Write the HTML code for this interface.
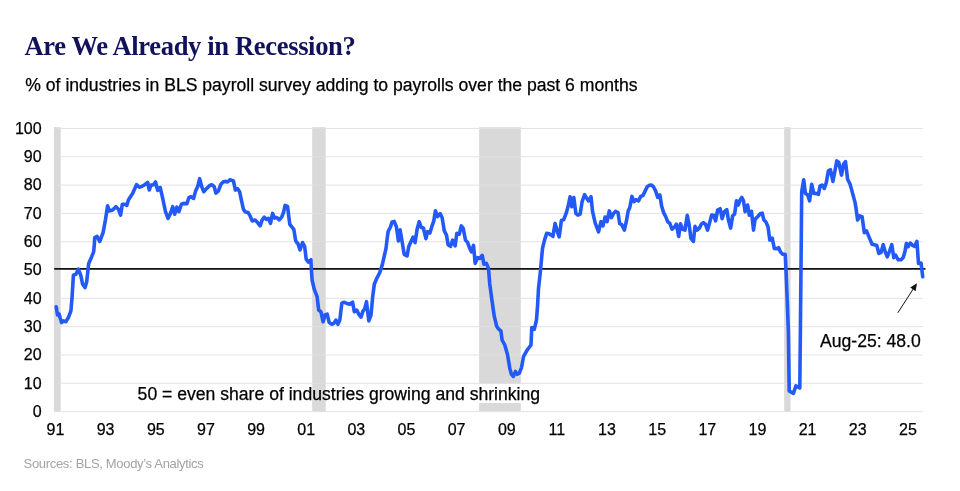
<!DOCTYPE html>
<html lang="en"><head><meta charset="utf-8"><title>Are We Already in Recession?</title>
<style>
html,body{margin:0;padding:0;background:#fff;}
body{width:960px;height:491px;position:relative;overflow:hidden;font-family:"Liberation Sans",Arial,sans-serif;}
h1{position:absolute;left:24.5px;top:28.9px;margin:0;font-family:"Liberation Serif","Times New Roman",serif;font-weight:bold;font-size:26.6px;line-height:34px;color:#12125c;white-space:nowrap;letter-spacing:-0.37px;}
.sub{position:absolute;left:25.3px;top:74.3px;margin:0;font-size:17.6px;line-height:22px;color:#000;-webkit-text-stroke:0.25px #000;white-space:nowrap;}
.src{position:absolute;left:23.6px;top:455.8px;margin:0;font-size:13px;letter-spacing:-0.32px;line-height:16px;color:#a3a3a3;white-space:nowrap;}
svg{position:absolute;left:0;top:0;}
svg text{font-family:"Liberation Sans",Arial,sans-serif;fill:#000;stroke:#000;stroke-width:0.25px;}
.ax text{font-size:16px;}
.an{font-size:17.6px;}
</style></head><body>
<h1>Are We Already in Recession?</h1>
<p class="sub">% of industries in BLS payroll survey adding to payrolls over the past 6 months</p>
<svg width="960" height="491" viewBox="0 0 960 491">
<g fill="#d9d9d9">
<rect x="53.9" y="127.2" width="6.8" height="284.4"/>
<rect x="312.2" y="127.2" width="13.5" height="284.4"/>
<rect x="479.1" y="127.2" width="41.7" height="284.4"/>
<rect x="784.2" y="127.2" width="6.4" height="284.4"/>
</g>
<rect x="479" y="383.8" width="42" height="19.2" fill="#fff"/>
<g stroke="#e0e0e0" stroke-width="0.9"><line x1="54.2" x2="923.0" y1="411.60" y2="411.60"/><line x1="54.2" x2="923.0" y1="383.29" y2="383.29"/><line x1="54.2" x2="923.0" y1="354.98" y2="354.98"/><line x1="54.2" x2="923.0" y1="326.67" y2="326.67"/><line x1="54.2" x2="923.0" y1="298.36" y2="298.36"/><line x1="54.2" x2="923.0" y1="241.74" y2="241.74"/><line x1="54.2" x2="923.0" y1="213.43" y2="213.43"/><line x1="54.2" x2="923.0" y1="185.12" y2="185.12"/><line x1="54.2" x2="923.0" y1="156.81" y2="156.81"/><line x1="54.2" x2="923.0" y1="128.50" y2="128.50"/></g>
<line x1="54.2" x2="925.4" y1="268.85" y2="268.85" stroke="#111" stroke-width="1.7"/>
<polyline fill="none" stroke="#235af7" stroke-width="3.6" stroke-linejoin="round" stroke-linecap="round" points="56.2,306.7 57.5,315.0 59.2,314.2 60.0,317.5 61.7,322.6 63.4,320.9 65.9,321.7 68.4,317.5 70.9,310.9 72.0,298.3 73.4,275.1 75.9,274.2 78.4,269.2 80.9,275.9 82.6,284.2 85.1,287.6 86.7,281.7 88.7,263.4 91.7,256.7 93.7,251.7 94.4,243.3 94.7,237.6 97.1,236.4 99.7,241.5 103.1,232.6 105.4,220.1 107.6,205.9 109.3,210.9 112.6,210.1 115.9,206.7 118.4,209.2 120.6,215.1 122.3,204.2 124.3,204.2 126.8,205.4 128.5,199.7 132.6,193.4 136.5,184.7 139.3,187.2 141.8,186.4 144.3,185.0 147.7,182.5 149.3,190.0 151.0,185.0 153.2,185.0 155.5,182.0 157.7,190.4 160.2,187.5 162.7,198.4 165.5,211.7 168.0,218.4 170.5,213.4 172.7,206.7 174.7,214.2 176.9,207.1 178.9,211.7 181.4,204.2 183.6,203.4 186.9,203.7 188.9,197.5 191.1,196.7 193.6,198.4 195.6,190.9 197.7,186.4 199.7,178.7 201.7,186.7 203.7,191.7 206.7,188.4 209.2,185.9 211.7,184.7 214.2,186.7 215.9,193.1 218.4,190.9 220.9,184.2 223.4,181.7 225.9,181.4 227.5,182.0 230.1,179.7 233.4,180.9 235.4,190.1 237.6,188.7 239.6,191.7 241.7,201.7 243.4,209.2 245.4,212.1 248.1,212.6 250.1,215.9 252.1,220.9 255.1,220.1 257.6,222.6 260.1,225.9 262.1,220.1 264.3,217.1 266.3,219.3 268.4,218.4 270.5,223.4 272.6,213.4 274.6,218.1 276.8,217.6 279.3,219.8 281.8,216.8 283.5,212.6 285.1,205.4 287.6,206.7 288.8,216.8 289.8,224.3 291.8,226.8 293.8,229.3 295.5,239.8 296.2,241.7 298.0,243.7 300.0,250.0 302.5,242.5 304.7,246.7 306.2,259.2 308.4,262.1 310.9,259.7 311.4,270.1 312.1,280.0 314.2,289.2 317.1,296.7 318.7,310.1 320.9,311.7 323.1,321.8 325.1,314.7 327.2,314.2 329.2,322.6 331.8,324.3 333.8,323.4 335.9,320.1 337.9,324.3 339.8,320.1 341.8,303.4 343.8,302.2 346.8,303.4 349.8,304.2 352.6,302.1 354.3,311.7 356.8,310.1 358.8,314.2 361.0,317.1 363.0,310.9 364.6,309.2 366.5,301.7 368.8,320.9 371.0,315.1 372.7,296.7 374.3,284.2 376.8,278.3 379.8,272.5 382.2,265.1 384.3,255.9 386.0,248.4 387.2,238.4 388.2,231.3 390.5,227.0 392.0,222.0 394.2,221.4 396.4,226.7 398.4,240.9 400.1,229.7 401.7,239.2 404.2,254.3 407.1,255.9 408.7,246.7 410.9,241.7 413.1,237.1 415.1,242.6 417.1,229.2 419.2,221.7 421.3,227.5 423.4,228.0 425.9,238.7 427.6,231.7 429.8,233.1 431.8,226.7 433.8,220.9 435.4,210.9 437.6,216.7 440.1,213.7 442.1,217.5 444.3,230.9 446.5,235.1 448.1,244.7 450.5,246.4 452.6,240.1 455.1,245.9 456.8,233.4 459.3,234.2 461.3,225.9 463.2,228.4 465.5,240.1 467.7,242.6 469.7,248.4 471.5,251.8 473.5,245.4 475.2,263.4 477.7,257.6 479.8,258.4 482.2,255.4 484.0,264.3 486.4,263.4 488.5,268.4 489.7,283.4 491.7,298.4 494.2,315.9 496.4,325.1 496.4,325.8 498.7,329.2 500.9,330.9 502.1,340.0 504.8,345.0 507.6,355.1 509.8,368.4 511.4,374.3 513.4,376.4 515.4,371.4 517.3,374.3 519.3,373.1 521.5,367.6 523.5,356.7 527.1,350.1 531.0,345.0 531.8,327.5 534.3,329.2 536.5,320.0 537.6,305.1 538.5,288.4 540.2,273.4 542.5,248.4 544.7,239.3 546.7,233.4 549.2,233.8 552.9,236.4 555.1,223.4 557.1,230.9 559.2,236.8 561.4,220.4 563.7,219.7 566.4,212.6 568.4,205.0 570.1,196.7 571.8,206.7 573.8,197.5 575.9,213.4 577.9,215.1 580.1,214.2 582.1,201.7 584.6,194.7 586.8,198.4 588.4,200.9 591.0,196.7 592.6,211.7 595.1,222.6 598.5,231.8 601.0,221.7 603.0,225.9 605.1,217.1 607.1,221.7 609.3,210.9 611.5,217.6 613.5,213.4 615.5,211.4 618.0,212.6 619.7,223.7 621.8,224.7 624.3,230.1 626.3,221.7 628.2,210.9 629.8,207.5 631.9,196.4 634.0,201.7 636.0,199.7 638.5,200.9 640.5,196.7 643.0,195.4 645.2,190.9 647.2,186.7 649.4,185.3 651.6,185.0 653.6,187.0 655.6,190.9 657.7,197.5 659.9,195.0 661.6,205.9 663.6,212.6 665.6,216.4 667.7,221.7 669.7,223.1 672.0,229.2 674.7,226.7 676.3,224.2 678.7,236.4 680.4,223.7 682.5,229.2 685.0,230.1 687.2,215.4 689.2,225.1 690.9,238.4 693.4,241.4 695.0,226.4 697.0,230.1 699.2,228.4 701.4,224.2 703.4,222.6 705.4,224.2 707.6,230.1 709.6,222.6 711.7,215.1 713.7,215.4 715.6,220.9 717.6,210.1 720.1,208.7 722.1,218.7 724.3,211.7 726.8,209.7 728.4,219.7 730.6,228.1 732.6,215.9 734.6,214.2 736.4,200.9 738.4,205.0 740.1,200.0 741.8,197.5 743.5,200.9 745.1,211.7 747.6,205.0 749.3,215.1 751.5,211.4 753.5,230.1 755.1,219.2 757.6,216.7 760.2,213.7 762.2,213.1 763.8,219.7 766.0,222.1 768.0,226.7 769.8,240.1 772.2,238.1 774.3,248.4 776.8,248.8 778.5,247.6 780.5,252.1 782.7,254.3 785.2,254.3 785.9,268.0 787.2,300.0 788.4,332.0 789.2,391.0 793.4,393.4 795.9,385.9 799.8,388.0 800.4,330.0 801.0,268.0 801.7,191.8 803.7,179.7 805.4,193.4 807.6,194.8 809.6,200.9 811.7,184.2 813.7,193.4 815.9,193.4 818.4,194.3 820.1,185.9 822.1,185.1 824.3,188.4 826.3,182.6 828.4,170.9 830.4,169.7 832.9,181.4 835.1,170.1 836.8,160.9 838.8,162.5 841.5,175.1 843.5,164.2 845.5,161.7 847.6,179.2 850.1,184.2 852.6,193.4 855.1,202.6 855.9,207.5 857.6,220.0 859.8,215.9 862.1,216.7 864.3,232.6 866.5,230.9 869.3,237.6 872.1,244.2 874.3,244.7 876.8,245.4 878.8,253.4 881.0,252.6 883.2,244.7 885.2,251.8 887.3,256.8 889.7,250.9 891.8,244.7 893.8,257.6 895.5,255.1 898.2,259.8 901.0,259.8 903.2,257.6 904.9,251.8 906.4,243.4 908.2,246.7 910.2,243.1 912.7,245.4 914.7,246.4 916.9,241.4 918.5,263.4 921.1,263.1 922.7,276.8"/>
<g class="ax"><text x="41.6" y="416.9" text-anchor="end">0</text><text x="41.6" y="388.6" text-anchor="end">10</text><text x="41.6" y="360.3" text-anchor="end">20</text><text x="41.6" y="332.0" text-anchor="end">30</text><text x="41.6" y="303.7" text-anchor="end">40</text><text x="41.6" y="275.4" text-anchor="end">50</text><text x="41.6" y="247.0" text-anchor="end">60</text><text x="41.6" y="218.7" text-anchor="end">70</text><text x="41.6" y="190.4" text-anchor="end">80</text><text x="41.6" y="162.1" text-anchor="end">90</text><text x="41.6" y="133.8" text-anchor="end">100</text><text x="55.5" y="434.8" text-anchor="middle">91</text><text x="105.6" y="434.8" text-anchor="middle">93</text><text x="155.8" y="434.8" text-anchor="middle">95</text><text x="205.9" y="434.8" text-anchor="middle">97</text><text x="256.1" y="434.8" text-anchor="middle">99</text><text x="306.2" y="434.8" text-anchor="middle">01</text><text x="356.3" y="434.8" text-anchor="middle">03</text><text x="406.5" y="434.8" text-anchor="middle">05</text><text x="456.6" y="434.8" text-anchor="middle">07</text><text x="506.8" y="434.8" text-anchor="middle">09</text><text x="556.9" y="434.8" text-anchor="middle">11</text><text x="607.0" y="434.8" text-anchor="middle">13</text><text x="657.2" y="434.8" text-anchor="middle">15</text><text x="707.3" y="434.8" text-anchor="middle">17</text><text x="757.5" y="434.8" text-anchor="middle">19</text><text x="807.6" y="434.8" text-anchor="middle">21</text><text x="857.7" y="434.8" text-anchor="middle">23</text><text x="907.9" y="434.8" text-anchor="middle">25</text></g>
<text class="an" x="137.6" y="400.4">50 = even share of industries growing and shrinking</text>
<text class="an" x="820" y="347.3">Aug-25: 48.0</text>
<line x1="897.8" y1="312.8" x2="914.5" y2="287" stroke="#111" stroke-width="1"/>
<polygon points="917,283.2 915.6,291.2 910.2,287.6" fill="#111"/>
</svg>
<p class="src">Sources: BLS, Moody’s Analytics</p>
</body></html>
